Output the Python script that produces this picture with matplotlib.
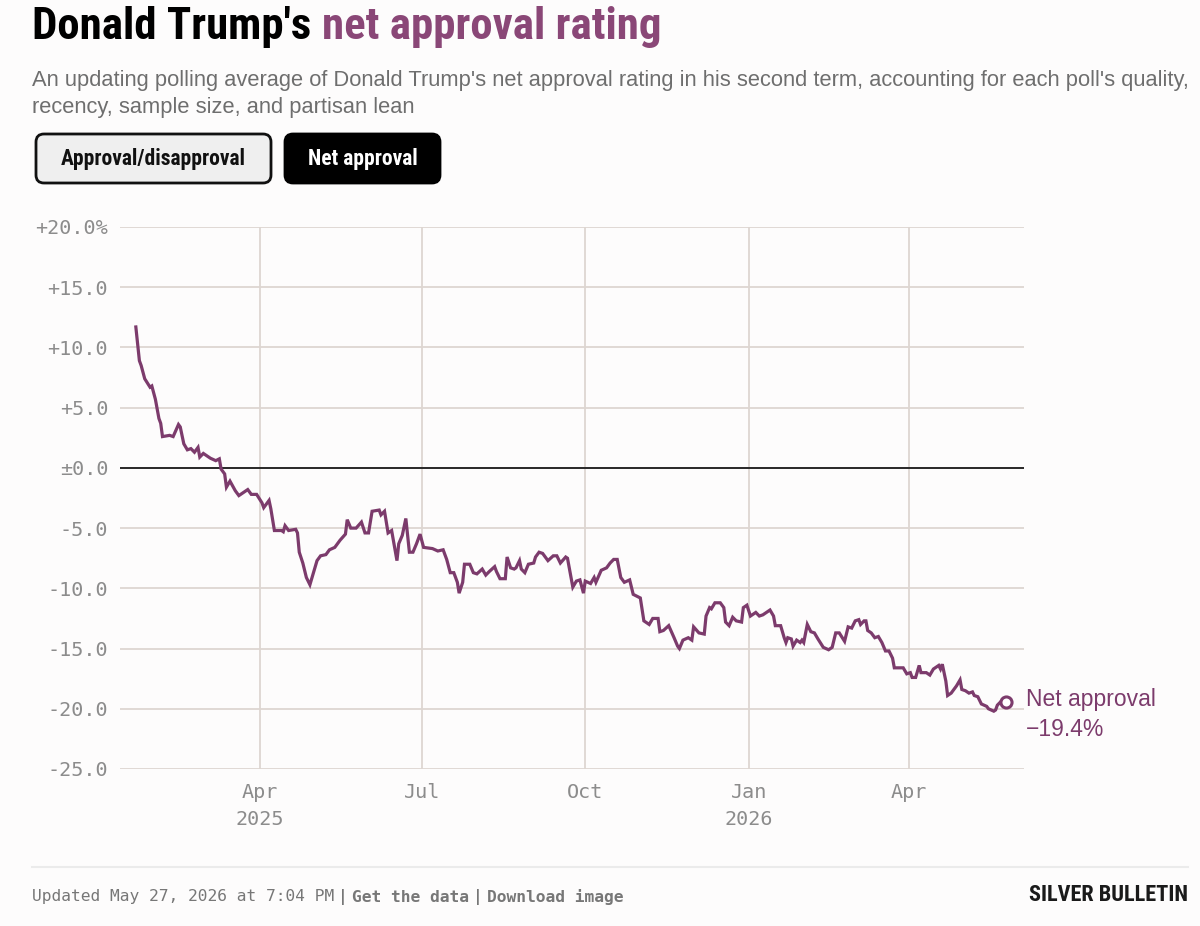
import numpy as np
import pandas as pd
import matplotlib
matplotlib.use("Agg")
import matplotlib.pyplot as plt
from matplotlib.patches import FancyBboxPatch

# net approval, days counted from inauguration (2025-01-20)
days = [1, 3, 4, 6, 9, 10, 12, 14, 15, 16,
        20, 22, 25, 26, 28, 30, 32, 34, 36, 37,
        39, 43, 46, 48, 49, 51, 52, 54, 57, 59,
        61, 64, 66, 69, 72, 73, 76, 77, 79, 83,
        84, 85, 87, 91, 92, 93, 95, 97, 99, 101,
        103, 105, 108, 110, 113, 116, 119, 120, 122, 125,
        128, 130, 132, 134, 138, 139, 141, 143, 145, 148,
        149, 151, 153, 155, 157, 159, 161, 163, 168, 171,
        174, 176, 178, 180, 182, 183, 185, 186, 189, 191,
        193, 196, 198, 200, 203, 204, 206, 209, 210, 212,
        214, 215, 217, 218, 220, 222, 225, 226, 228, 230,
        233, 236, 238, 240, 243, 244, 247, 249, 251, 253,
        254, 257, 259, 260, 263, 266, 268, 270, 272, 274,
        276, 279, 281, 285, 287, 290, 292, 295, 296, 298,
        301, 304, 306, 307, 309, 312, 314, 315, 318, 321,
        322, 324, 325, 327, 330, 332, 333, 335, 337, 339,
        342, 343, 345, 347, 350, 352, 354, 358, 360, 361,
        364, 366, 367, 368, 370, 371, 373, 375, 376, 377,
        379, 381, 383, 385, 388, 391, 393, 395, 397, 400,
        402, 404, 406, 408, 409, 411, 412, 413, 415, 417,
        419, 421, 423, 425, 427, 428, 431, 433, 435, 437,
        438, 440, 442, 443, 446, 448, 450, 453, 454, 455,
        457, 458, 460, 461, 463, 465, 466, 468, 470, 472,
        473, 475, 477, 480, 481, 484, 485, 486, 488, 489,
        491]
net = [11.7, 8.9, 8.5, 7.4, 6.7, 6.8, 5.7, 4.1, 3.7, 2.6,
       2.7, 2.6, 3.6, 3.4, 2.0, 1.5, 1.6, 1.3, 1.7, 0.9,
       1.2, 0.8, 0.6, 0.75, -0.1, -0.5, -1.6, -1.1, -1.9, -2.3,
       -2.1, -1.8, -2.2, -2.2, -2.9, -3.3, -2.7, -3.4, -5.2, -5.2,
       -5.3, -4.8, -5.2, -5.1, -5.4, -7.0, -7.9, -9.1, -9.7, -8.7,
       -7.7, -7.3, -7.2, -6.8, -6.6, -6.0, -5.5, -4.3, -5.0, -5.0,
       -4.5, -5.4, -5.4, -3.6, -3.5, -3.9, -3.6, -5.4, -5.2, -7.7,
       -6.3, -5.6, -4.2, -7.0, -7.0, -6.3, -5.5, -6.6, -6.7, -6.9,
       -6.8, -7.6, -8.7, -8.7, -9.5, -10.4, -9.5, -8.0, -8.0, -8.7,
       -8.8, -8.4, -8.9, -8.6, -8.2, -8.6, -9.2, -9.2, -7.4, -8.3,
       -8.4, -8.3, -7.7, -8.4, -8.7, -8.0, -7.9, -7.4, -7.0, -7.1,
       -7.7, -7.3, -7.3, -7.9, -7.4, -7.5, -9.9, -9.4, -9.3, -10.4,
       -9.4, -9.6, -9.1, -9.5, -8.5, -8.3, -7.9, -7.6, -7.6, -9.1,
       -9.5, -9.3, -10.5, -10.8, -12.7, -13.0, -12.5, -12.5, -13.6, -13.5,
       -13.1, -14.1, -14.8, -15.0, -14.3, -14.1, -14.3, -13.2, -13.7, -13.8,
       -12.3, -11.6, -11.7, -11.2, -11.2, -11.6, -12.8, -13.1, -12.4, -12.7,
       -12.8, -11.6, -11.4, -12.3, -12.0, -12.3, -12.2, -11.8, -12.3, -13.1,
       -13.1, -14.1, -14.5, -14.1, -14.2, -14.8, -14.3, -14.5, -14.3, -14.5,
       -13.0, -13.6, -13.7, -14.2, -14.9, -15.1, -14.9, -13.7, -13.7, -14.4,
       -13.2, -13.3, -12.7, -12.6, -13.0, -12.7, -12.7, -13.5, -13.7, -14.1,
       -14.0, -14.5, -15.2, -15.2, -15.8, -16.6, -16.6, -16.6, -17.1, -17.0,
       -17.4, -17.4, -16.4, -17.0, -17.0, -17.2, -16.7, -16.4, -16.7, -16.3,
       -17.7, -18.9, -18.7, -18.5, -18.1, -17.6, -18.4, -18.5, -18.7, -18.6,
       -18.9, -19.0, -19.6, -19.8, -20.0, -20.2, -20.1, -19.7, -19.4, -19.4,
       -19.4]
latest = -19.4

yticks = [20, 15, 10, 5, 0, -5, -10, -15, -20, -25]
ytick_labels = ["+20.0%", "+15.0", "+10.0", "+5.0", "\u00b10.0",
                "-5.0", "-10.0", "-15.0", "-20.0", "-25.0"]
xticks = ["2025-04-01", "2025-07-01", "2025-10-01", "2026-01-01", "2026-04-01"]
xtick_labels = ["Apr\n2025", "Jul", "Oct", "Jan\n2026", "Apr"]

start = pd.Timestamp("2025-01-20")
dates = start + pd.to_timedelta(days, unit="D")

PURPLE = "#7c3b6c"
TITLE_PURPLE = "#8a4777"
GRID = "#ddd6d1"
TICK = "#8c8c8c"
BG = "#fdfcfc"
COND = ["Roboto Condensed", "DejaVu Sans"]

W, H = 1200, 926
fig = plt.figure(figsize=(W / 100, H / 100), dpi=100, facecolor=BG)

def fx(px):
    return px / W

def fy(py):
    return 1 - py / H

ax = fig.add_axes([fx(120), fy(769), fx(1024) - fx(120), fy(227) - fy(769)])
ax.set_facecolor(BG)
ax.plot(dates, net, color=PURPLE, lw=2.3, solid_joinstyle="miter", zorder=3)
ax.plot(dates[-1:], [latest], marker="o", ms=8, mfc="white", mec=PURPLE, mew=2.2, zorder=4)

ax.set_ylim(-25, 20)
ax.set_xlim(pd.Timestamp("2025-01-12 02:00"), pd.Timestamp("2026-06-05"))
ax.set_yticks(yticks)
ax.set_yticklabels(ytick_labels)
ax.set_xticks(pd.to_datetime(xticks))
ax.set_xticklabels(xtick_labels, linespacing=1.55)
ax.grid(True, color=GRID, lw=1.3)
ax.axhline(0, color="#1a1a1a", lw=1.3, zorder=2)
for s in ax.spines.values():
    s.set_visible(False)
ax.tick_params(length=0, labelsize=14.5, labelcolor=TICK)
ax.tick_params(axis="y", pad=8.5)
ax.tick_params(axis="x", pad=10)
for lab in ax.get_xticklabels() + ax.get_yticklabels():
    lab.set_family("DejaVu Sans Mono")

ax.annotate("Net approval\n\u221219.4%", xy=(dates[-1], latest), xytext=(14, 10),
            textcoords="offset points", va="top", ha="left", color=PURPLE,
            fontsize=16.5, family="Liberation Sans", linespacing=1.4)

# title
r = fig.canvas.get_renderer()
t1 = fig.text(fx(32), fy(39), "Donald Trump's ", fontsize=32.3, weight="bold",
              family=COND, color="black")
bb = t1.get_window_extent(renderer=r)
fig.text(bb.x1 / W, fy(39), "net approval rating", fontsize=32.3, weight="bold",
         family=COND, color=TITLE_PURPLE)

fig.text(fx(32), fy(94), "An updating polling average of Donald Trump's net approval rating in his second term, accounting for each poll's quality,\nrecency, sample size, and partisan lean",
         fontsize=15.75, color="#6e6e6e", family="Liberation Sans", va="center", linespacing=1.4)

# toggle buttons
b1 = FancyBboxPatch((36 / 100, (H - 183) / 100), 2.35, 0.49, boxstyle="round,pad=0,rounding_size=0.08",
                    transform=fig.dpi_scale_trans, fc="#efefef", ec="#111111", lw=2)
b2 = FancyBboxPatch((285 / 100, (H - 183) / 100), 1.55, 0.49, boxstyle="round,pad=0,rounding_size=0.08",
                    transform=fig.dpi_scale_trans, fc="black", ec="black", lw=2)
fig.patches.extend([b1, b2])
fig.text(fx(153.5), fy(159), "Approval/disapproval", ha="center", va="center", fontsize=15.5,
         weight="bold", family=COND, color="#111111")
fig.text(fx(362.5), fy(159), "Net approval", ha="center", va="center", fontsize=15.5,
         weight="bold", family=COND, color="white")

# footer
fig.add_artist(plt.Line2D([fx(32), fx(1188)], [fy(867), fy(867)], color="#ebebeb", lw=1.5))
parts = [("Updated May 27, 2026 at 7:04 PM", "normal"), ("|", "bold"), ("Get the data", "bold"),
         ("|", "bold"), ("Download image", "bold")]
x = 32
for txt, wt in parts:
    t = fig.text(fx(x), fy(897), txt, fontsize=11.7, family="DejaVu Sans Mono", weight=wt,
                 color="#777777", va="center")
    x = t.get_window_extent(renderer=r).x1 + 4
fig.text(fx(1188), fy(895), "SILVER BULLETIN", ha="right", va="center", fontsize=16, weight="heavy",
         family=COND, color="#1a1a1a")

fig.savefig("out.png", dpi=100, facecolor=BG)
